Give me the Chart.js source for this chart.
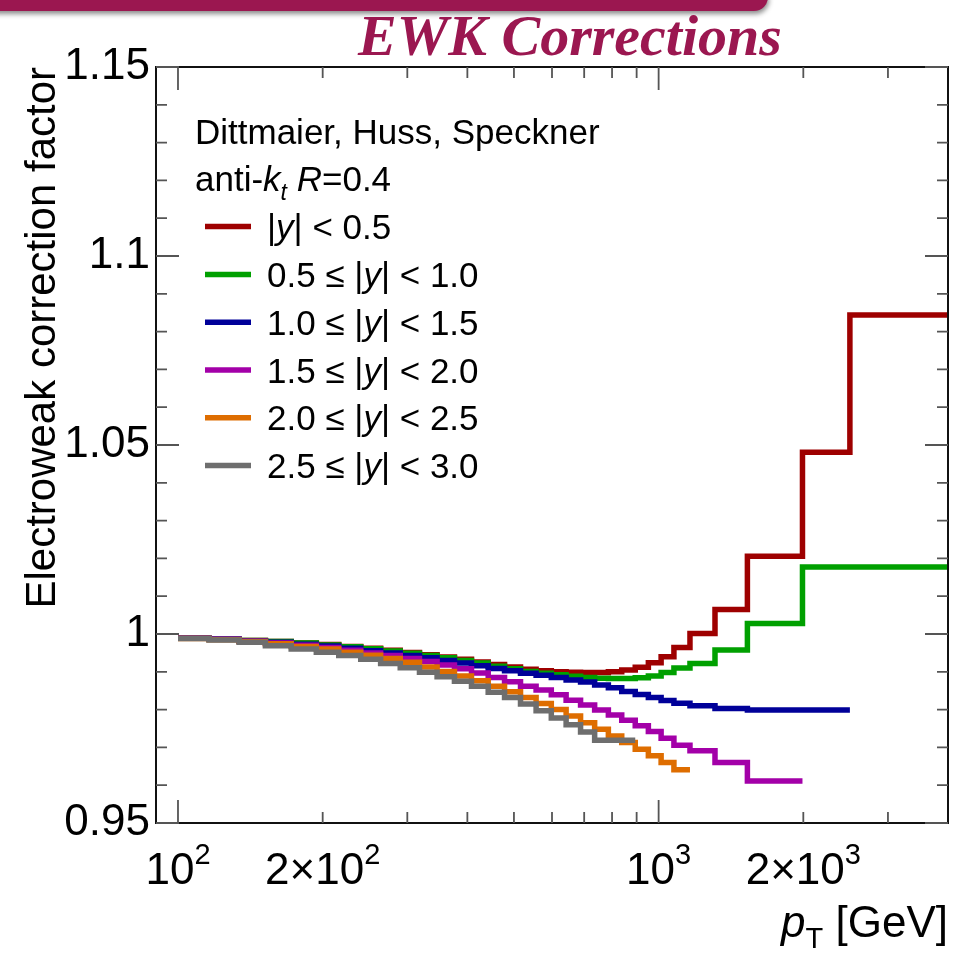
<!DOCTYPE html>
<html>
<head>
<meta charset="utf-8">
<script src="https://cdn.jsdelivr.net/npm/chart.js@4.4.0/dist/chart.umd.min.js"></script>
<style>
  html, body { margin: 0; padding: 0; background: #fff; }
  #wrap { position: relative; width: 957px; height: 956px; overflow: hidden; }
  canvas { position: absolute; left: 0; top: 0; }
  #bar { position: absolute; left: -20px; top: -6px; width: 788px; height: 17px; background: #9b1750;
         border-bottom-right-radius: 14px; box-shadow: 1px 3px 5px rgba(0,0,0,0.45); }
  #title { position: absolute; left: 320px; top: 7px; width: 500px; text-align: center;
           font: italic bold 58px "Liberation Serif", "DejaVu Serif", serif; line-height: 58px; color: #9b1750; }
</style>
</head>
<body>
<div id="wrap">
  <canvas id="ewkChart" width="957" height="956"></canvas>
  <div id="bar"></div>
  <div id="title">EWK Corrections</div>
</div>
<script>
// pT bin edges [GeV]
const ptBinEdges = [100, 116, 134, 152, 172, 194, 216, 240, 264, 290, 318, 346, 376, 408, 442, 478,
  516, 556, 598, 642, 688, 736, 786, 838, 894, 952, 1012, 1076, 1162, 1310, 1530, 1992, 2500, 4000];

// rapidity slices
const rapidityLow = [null, '0.5', '1.0', '1.5', '2.0', '2.5'];
const rapidityHigh = ['0.5', '1.0', '1.5', '2.0', '2.5', '3.0'];

// correction factor per pT bin, one array per slice
const ewkY00 = [0.9989, 0.9986, 0.9983, 0.9980, 0.9976, 0.9972, 0.9967, 0.9962, 0.9957, 0.9951, 0.9945,
  0.9939, 0.9933, 0.9926, 0.9919, 0.9913, 0.9907, 0.9903, 0.9900, 0.9899, 0.9898, 0.9898, 0.9900, 0.9905,
  0.9912, 0.9924, 0.9940, 0.9964, 1.0001, 1.0065, 1.0206, 1.0481, 1.0844];
const ewkY05 = [0.9989, 0.9986, 0.9983, 0.9980, 0.9976, 0.9971, 0.9966, 0.9961, 0.9955, 0.9949, 0.9943,
  0.9937, 0.9930, 0.9923, 0.9915, 0.9908, 0.9901, 0.9896, 0.9892, 0.9888, 0.9885, 0.9883, 0.9882, 0.9882,
  0.9884, 0.9889, 0.9898, 0.9910, 0.9922, 0.9958, 1.0028, 1.0177, 1.0177];
const ewkY10 = [0.9989, 0.9986, 0.9982, 0.9978, 0.9973, 0.9968, 0.9962, 0.9956, 0.9950, 0.9943, 0.9937,
  0.9930, 0.9923, 0.9916, 0.9909, 0.9903, 0.9896, 0.9891, 0.9885, 0.9878, 0.9873, 0.9865, 0.9858, 0.9848,
  0.9840, 0.9832, 0.9824, 0.9817, 0.9810, 0.9803, 0.9799, 0.9799];
const ewkY15 = [0.9989, 0.9986, 0.9981, 0.9976, 0.9970, 0.9964, 0.9957, 0.9950, 0.9943, 0.9935, 0.9927,
  0.9918, 0.9908, 0.9897, 0.9885, 0.9874, 0.9862, 0.9852, 0.9839, 0.9825, 0.9812, 0.9799, 0.9786, 0.9772,
  0.9757, 0.9742, 0.9724, 0.9706, 0.9691, 0.9660, 0.9611];
const ewkY20 = [0.9988, 0.9985, 0.9980, 0.9974, 0.9967, 0.9960, 0.9952, 0.9944, 0.9935, 0.9925, 0.9913,
  0.9901, 0.9889, 0.9876, 0.9862, 0.9847, 0.9832, 0.9816, 0.9800, 0.9783, 0.9765, 0.9748, 0.9730, 0.9713,
  0.9695, 0.9678, 0.9660, 0.9641];
const ewkY25 = [0.9988, 0.9984, 0.9978, 0.9969, 0.9960, 0.9952, 0.9943, 0.9933, 0.9922, 0.9911, 0.9899,
  0.9887, 0.9875, 0.9862, 0.9846, 0.9832, 0.9815, 0.9797, 0.9778, 0.9760, 0.9741, 0.9719, 0.9719, 0.9719];

// axis ticks
const yMajorTicks = [0.95, 1, 1.05, 1.1, 1.15];
const xLabelValues = [100, 200, 1000, 2000];
const xLabelMantissa = ['', '2\u00d7', '', '2\u00d7'];
const xLabelExponent = ['2', '2', '3', '3'];

const seriesValues = [ewkY00, ewkY05, ewkY10, ewkY15, ewkY20, ewkY25];
const seriesColors = ['#9e0000', '#00a000', '#000099', '#a300a8', '#de6d00', '#6e6e6e'];

const FONT = '"Liberation Sans", Arial, Helvetica, sans-serif';

function histPoints(values) {
    const pts = values.map((v, i) => ({ x: ptBinEdges[i], y: v }));
    pts.push({ x: ptBinEdges[values.length], y: values[values.length - 1] });
    return pts;
}

// draws text made of pieces (italic / sub / sup), alphabetic baseline
function richText(ctx, parts, x, y, size, align) {
    const fontFor = p => (p.it ? 'italic ' : '') + ((p.sub || p.sup) ? Math.round(size * 0.65) : size) + 'px ' + FONT;
    let w = 0;
    parts.forEach(p => { ctx.font = fontFor(p); p.w = ctx.measureText(p.t).width; w += p.w; });
    let cx = align === 'right' ? x - w : align === 'center' ? x - w / 2 : x;
    ctx.textAlign = 'left';
    ctx.textBaseline = 'alphabetic';
    parts.forEach(p => {
        ctx.font = fontFor(p);
        const dy = p.sup ? -size * 0.45 : p.sub ? size * 0.25 : 0;
        ctx.fillText(p.t, cx, y + dy);
        cx += p.w;
    });
}

const rootStyle = {
    id: 'rootStyle',
    afterDraw(chart) {
        const { ctx, chartArea: a, scales: { x, y } } = chart;
        ctx.save();

        // frame
        ctx.strokeStyle = '#111';
        ctx.lineWidth = 2;
        ctx.strokeRect(a.left, a.top, a.right - a.left, a.bottom - a.top);

        // inward ticks
        ctx.strokeStyle = '#555';
        ctx.lineWidth = 1.8;
        const yMin = y.min, yMax = y.max, yStep = 0.01;
        const nY = Math.round((yMax - yMin) / yStep);
        for (let i = 0; i <= nY; i++) {
            const v = yMin + i * yStep;
            const py = y.getPixelForValue(v);
            const len = (i % 5 === 0) ? 23 : 11;
            ctx.beginPath();
            ctx.moveTo(a.left, py); ctx.lineTo(a.left + len, py);
            ctx.moveTo(a.right, py); ctx.lineTo(a.right - len, py);
            ctx.stroke();
        }
        for (let d = 10; d <= 1000; d *= 10) {
            for (let m = 1; m <= 9; m++) {
                const v = m * d;
                if (v <= x.min || v >= x.max) continue;
                const px = x.getPixelForValue(v);
                const len = (m === 1) ? 23 : 11;
                ctx.beginPath();
                ctx.moveTo(px, a.bottom); ctx.lineTo(px, a.bottom - len);
                ctx.moveTo(px, a.top); ctx.lineTo(px, a.top + len);
                ctx.stroke();
            }
        }

        ctx.fillStyle = '#000';
        // x tick labels
        xLabelValues.forEach((v, i) => {
            richText(ctx, [{ t: xLabelMantissa[i] + '10' }, { t: xLabelExponent[i], sup: true }],
                x.getPixelForValue(v), 884, 44, 'center');
        });

        // x title
        richText(ctx, [{ t: 'p', it: true }, { t: 'T', sub: true }, { t: ' [GeV]' }], a.right, 937, 44, 'right');

        // legend
        const lx = 195, rowH = 47.8, size = 35, cap = size * 0.36;
        let ry = 131;
        richText(ctx, [{ t: 'Dittmaier, Huss, Speckner' }], lx, ry + cap, size, 'left');
        ry += rowH;
        richText(ctx, [{ t: 'anti-' }, { t: 'k', it: true }, { t: 't', it: true, sub: true }, { t: ' ' },
            { t: 'R', it: true }, { t: '=0.4' }], lx, ry + cap, size, 'left');
        seriesValues.forEach((vals, i) => {
            ry += rowH;
            ctx.strokeStyle = seriesColors[i];
            ctx.lineWidth = 5.5;
            ctx.beginPath();
            ctx.moveTo(205, ry); ctx.lineTo(251, ry);
            ctx.stroke();
            const parts = [];
            if (rapidityLow[i] !== null) parts.push({ t: rapidityLow[i] + ' \u2264 ' });
            parts.push({ t: '|' }, { t: 'y', it: true }, { t: '| < ' + rapidityHigh[i] });
            richText(ctx, parts, 267, ry + cap, size, 'left');
        });

        ctx.restore();
    }
};

const ctx = document.getElementById('ewkChart').getContext('2d');

window.ewkChart = new Chart(ctx, {
    type: 'line',
    data: {
        datasets: seriesValues.map((vals, i) => ({
            label: (rapidityLow[i] ? rapidityLow[i] + ' <= ' : '') + '|y| < ' + rapidityHigh[i],
            data: histPoints(vals),
            borderColor: seriesColors[i],
            borderWidth: 5.5,
            stepped: true,
            pointRadius: 0,
            fill: false,
            borderJoinStyle: 'miter',
            borderCapStyle: 'butt',
            order: seriesValues.length - i // last slice on top, as in ROOT
        }))
    },
    options: {
        responsive: false,
        animation: false,
        devicePixelRatio: 1,
        layout: { padding: { top: 67, right: 9, left: 0, bottom: 0 } },
        plugins: {
            legend: { display: false },
            tooltip: { enabled: false }
        },
        scales: {
            x: {
                type: 'logarithmic',
                min: 90,
                max: 4000,
                grid: { display: false, drawTicks: false },
                border: { display: false },
                ticks: { display: false },
                afterFit: s => { s.height = 133; }
            },
            y: {
                min: 0.95,
                max: 1.15,
                grid: { display: false, drawTicks: false },
                border: { display: false },
                afterBuildTicks: s => { s.ticks = yMajorTicks.map(v => ({ value: v })); },
                ticks: {
                    autoSkip: false,
                    padding: 6,
                    color: '#000',
                    font: { family: FONT, size: 44 },
                    callback: v => String(parseFloat(Number(v).toFixed(2)))
                },
                title: {
                    display: true,
                    text: 'Electroweak correction factor',
                    align: 'end',
                    color: '#000',
                    font: { family: FONT, size: 42 },
                    padding: { top: 18, bottom: 0 }
                },
                afterFit: s => { s.width = 156; }
            }
        }
    },
    plugins: [rootStyle]
});
</script>
</body>
</html>
